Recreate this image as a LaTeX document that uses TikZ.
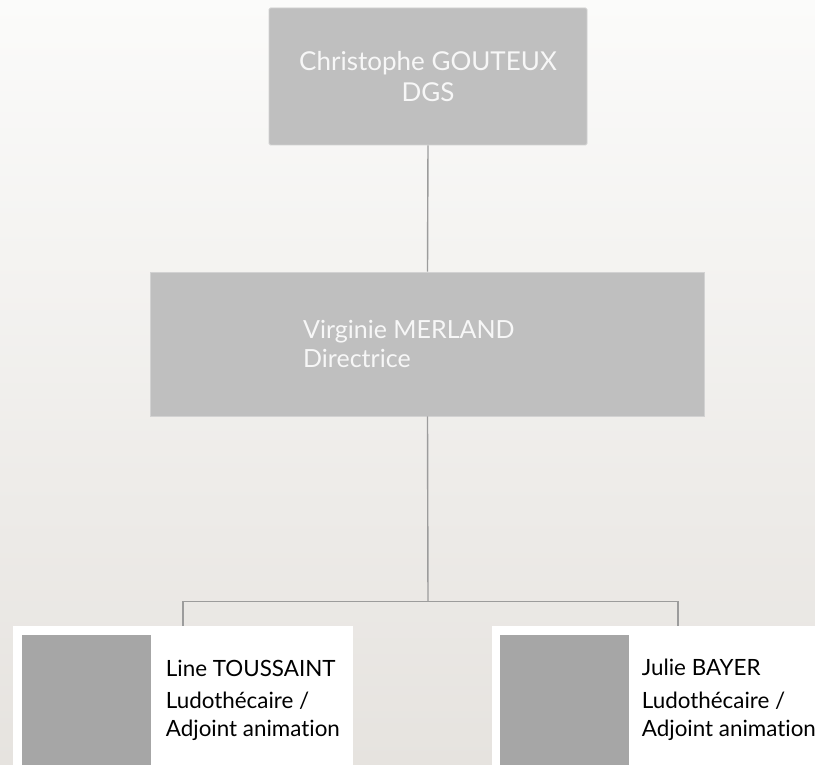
\documentclass[tikz,border=0pt]{standalone}
\usepackage{fontspec}
\setmainfont{Lato}[Ligatures={NoCommon,NoRare}]
\definecolor{bgtop}{HTML}{FBFBFA}
\definecolor{bgbot}{HTML}{E6E3DF}
\definecolor{boxfill}{HTML}{BFBFBF}
\definecolor{boxedge}{HTML}{D2D2D2}
\definecolor{connc}{HTML}{9C9C9C}
\definecolor{photo}{HTML}{A6A6A6}
\definecolor{boxtext}{HTML}{F7F7F7}
\tikzset{
  box/.style={rectangle, fill=boxfill, draw=boxedge, line width=0.8pt, inner sep=0pt},
  conn/.style={draw=connc, line width=1.4pt},
  boxlbl/.style={text=boxtext, font=\fontsize{25}{30}\selectfont, inner sep=0pt},
  toplbl/.style={boxlbl, font=\fontsize{26}{31}\selectfont},
  card/.style={rectangle, fill=white, draw=none, inner sep=0pt, anchor=north west},
  photobox/.style={rectangle, fill=photo, draw=none, inner sep=0pt, anchor=north west},
  cardlbl/.style={text=black, font=\fontsize{22.4}{27}\selectfont, inner sep=0pt, anchor=base west}
}
\begin{document}
\begin{tikzpicture}[x=1pt,y=-1pt]
\useasboundingbox (0,0) rectangle (815,765);
\clip (0,0) rectangle (815,765);
\shade[top color=bgtop, bottom color=bgbot] (0,0) rectangle (815,765);

% top box
\node[box, rounded corners=1.5pt, minimum width=318pt, minimum height=137pt] (dgs) at (428,76.5) {};
\node[toplbl, anchor=base] (dgsname) at (428,70.7) {Christophe GOUTEUX};
\node[toplbl, anchor=base] (dgsrole) at (428,101.7) {DGS};

% middle box
\node[box, minimum width=554pt, minimum height=144pt] (dir) at (427.5,344) {};
\node[boxlbl, anchor=base west] (dirname) at (303,338) {Virginie MERLAND};
\node[boxlbl, anchor=base west] (dirrole) at (303,367) {Directrice};

% connectors
\coordinate (hub) at (428,601.7);
\coordinate (t1) at (183,626);
\coordinate (t2) at (678,626);
\draw[conn] (dgs.south) -- (dir.north);
\draw[conn] (dir.south) -- (hub);
\draw[conn] (hub) -| (t1);
\draw[conn] (hub) -| (t2);

% cards
\node[card, minimum width=340pt, minimum height=150pt] (card1) at (13,626) {};
\node[photobox, minimum width=129pt, minimum height=140pt] (photo1) at (22,635) {};
\node[cardlbl] (n1) at (165.7,676) {Line TOUSSAINT};
\node[cardlbl] (r1a) at (165.7,708.3) {Ludothécaire /};
\node[cardlbl] (r1b) at (165.7,736.7) {Adjoint animation};

\node[card, minimum width=340pt, minimum height=150pt] (card2) at (492,626) {};
\node[photobox, minimum width=129pt, minimum height=140pt] (photo2) at (500,635) {};
\node[cardlbl] (n2) at (641.7,675.5) {Julie BAYER};
\node[cardlbl] (r2a) at (641.7,708.3) {Ludothécaire /};
\node[cardlbl] (r2b) at (641.7,736.7) {Adjoint animation};
\end{tikzpicture}
\end{document}
